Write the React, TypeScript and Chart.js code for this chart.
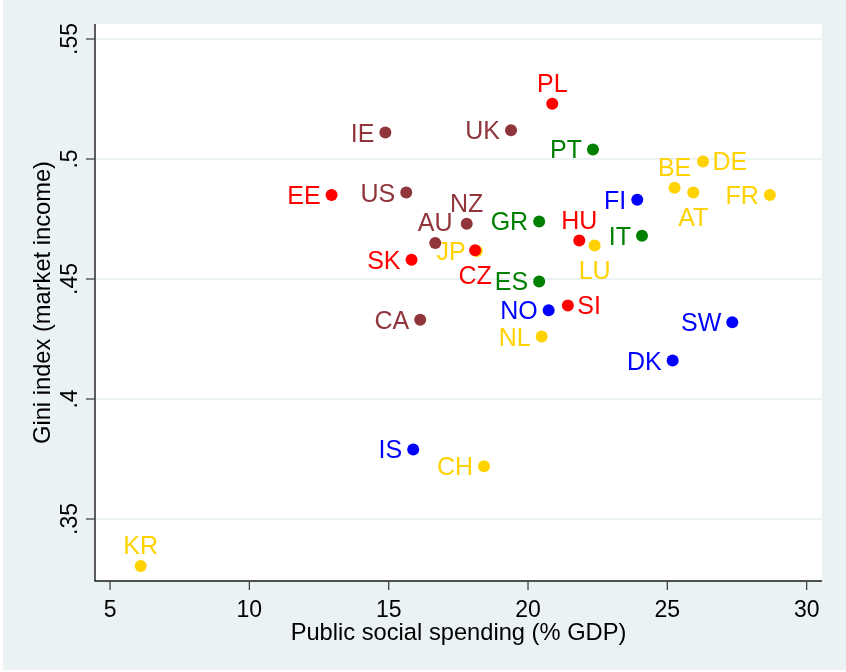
import React, { useEffect, useRef } from "react";
import { Chart, registerables } from "chart.js";

Chart.register(...registerables);

// ---- Data ----
const angloCodes = ["IE", "UK", "US", "NZ", "AU", "CA"];
const angloSpending = [14.88, 19.39, 15.63, 17.8, 16.67, 16.13];
const angloGini = [0.511, 0.512, 0.486, 0.473, 0.465, 0.433];

const easternCodes = ["PL", "EE", "HU", "SK", "CZ", "SI"];
const easternSpending = [20.87, 12.95, 21.84, 15.82, 18.1, 21.43];
const easternGini = [0.523, 0.485, 0.466, 0.458, 0.462, 0.439];

const southernCodes = ["PT", "GR", "IT", "ES"];
const southernSpending = [22.33, 20.4, 24.09, 20.4];
const southernGini = [0.504, 0.474, 0.468, 0.449];

const nordicCodes = ["FI", "NO", "SW", "DK", "IS"];
const nordicSpending = [23.92, 20.74, 27.33, 25.19, 15.88];
const nordicGini = [0.483, 0.437, 0.432, 0.416, 0.379];

const continentalCodes = ["BE", "DE", "AT", "FR", "LU", "JP", "NL", "CH", "KR"];
const continentalSpending = [25.26, 26.28, 25.93, 28.68, 22.39, 18.16, 20.49, 18.42, 6.1];
const continentalGini = [0.488, 0.499, 0.486, 0.485, 0.464, 0.4617, 0.426, 0.372, 0.3304];

const xTickValues = [5, 10, 15, 20, 25, 30];
const xTickLabels = ["5", "10", "15", "20", "25", "30"];
const yTickValues = [0.35, 0.4, 0.45, 0.5, 0.55];
const yTickLabels = [".35", ".4", ".45", ".5", ".55"];

const xTitle = "Public social spending (% GDP)";
const yTitle = "Gini index (market income)";

// ---- Styles ----
const groupColors = ["rgb(144,53,59)", "rgb(255,0,0)", "rgb(0,128,0)", "rgb(0,0,255)", "rgb(255,210,0)"];

// marker label clock positions: L = left (9), R = right (3), T = above (12), B = below (6)
const labelPos: Record<string, string> = {
  PL: "T", NZ: "T", AU: "T", HU: "T", BE: "T", KR: "T",
  DE: "R", SI: "R",
  AT: "B", LU: "B", CZ: "B",
};

const FONT = '"Liberation Sans", Arial, Helvetica, sans-serif';
const LABEL_FS = 25;
const TICK_FS = 23;
const TITLE_FS = 23.7;
const BG = "rgb(234,242,243)";

const stataPlugin = {
  id: "stataFrame",
  beforeDraw(chart: any) {
    const { ctx, chartArea: a, width, height } = chart;
    const ys = chart.scales.y;
    ctx.save();
    ctx.fillStyle = "#ffffff";
    ctx.fillRect(0, 0, width, height);
    ctx.fillStyle = BG;
    ctx.fillRect(3, 0, width - 3, height - 2);
    ctx.fillStyle = "#ffffff";
    ctx.fillRect(a.left, a.top, a.right - a.left, a.bottom - a.top);
    // horizontal grid lines
    ctx.strokeStyle = BG;
    ctx.lineWidth = 2;
    yTickValues.forEach((v) => {
      const y = ys.getPixelForValue(v);
      ctx.beginPath();
      ctx.moveTo(a.left, y);
      ctx.lineTo(a.right, y);
      ctx.stroke();
    });
    ctx.restore();
  },
  beforeDatasetsDraw(chart: any) {
    const { ctx, chartArea: a } = chart;
    const xs = chart.scales.x;
    const ys = chart.scales.y;
    ctx.save();
    // axis lines
    ctx.strokeStyle = "#1a1a1a";
    ctx.lineWidth = 1.4;
    ctx.beginPath();
    ctx.moveTo(a.left, a.top);
    ctx.lineTo(a.left, a.bottom);
    ctx.lineTo(a.right, a.bottom);
    ctx.stroke();
    // tick marks
    ctx.strokeStyle = "#444";
    ctx.lineWidth = 1.3;
    yTickValues.forEach((v) => {
      const y = ys.getPixelForValue(v);
      ctx.beginPath();
      ctx.moveTo(a.left - 9, y);
      ctx.lineTo(a.left, y);
      ctx.stroke();
    });
    xTickValues.forEach((v) => {
      const x = xs.getPixelForValue(v);
      ctx.beginPath();
      ctx.moveTo(x, a.bottom);
      ctx.lineTo(x, a.bottom + 9);
      ctx.stroke();
    });
    // tick labels
    ctx.fillStyle = "#000";
    ctx.font = `${TICK_FS}px ${FONT}`;
    ctx.textAlign = "center";
    ctx.textBaseline = "alphabetic";
    xTickValues.forEach((v, i) => {
      ctx.fillText(xTickLabels[i], xs.getPixelForValue(v), a.bottom + 35.7);
    });
    yTickValues.forEach((v, i) => {
      const y = ys.getPixelForValue(v);
      ctx.save();
      ctx.translate(a.left - 18.3, y);
      ctx.rotate(-Math.PI / 2);
      ctx.fillText(yTickLabels[i], 0, 0);
      ctx.restore();
    });
    // axis titles
    ctx.font = `${TITLE_FS}px ${FONT}`;
    ctx.fillText(xTitle, (a.left + a.right) / 2, a.bottom + 58.5);
    ctx.save();
    ctx.translate(a.left - 45, (a.top + a.bottom) / 2);
    ctx.rotate(-Math.PI / 2);
    ctx.fillText(yTitle, 0, 0);
    ctx.restore();
    ctx.restore();
  },
  afterDatasetsDraw(chart: any) {
    const { ctx } = chart;
    ctx.save();
    ctx.font = `${LABEL_FS}px ${FONT}`;
    ctx.textBaseline = "alphabetic";
    const capH = 0.716 * LABEL_FS;
    chart.data.datasets.forEach((ds: any, di: number) => {
      const meta = chart.getDatasetMeta(di);
      ctx.fillStyle = ds.backgroundColor;
      meta.data.forEach((pt: any, i: number) => {
        const code = ds.codes[i];
        const pos = labelPos[code] || "L";
        const { x, y } = pt;
        if (pos === "L") {
          ctx.textAlign = "right";
          ctx.fillText(code, x - 11, y + capH / 2);
        } else if (pos === "R") {
          ctx.textAlign = "left";
          ctx.fillText(code, x + 9.5, y + capH / 2);
        } else if (pos === "T") {
          ctx.textAlign = "center";
          ctx.fillText(code, x, y - 11.7);
        } else {
          ctx.textAlign = "center";
          ctx.fillText(code, x, y + 15.7 + capH);
        }
      });
    });
    ctx.restore();
  },
};

function makeDataset(codes: string[], xs: number[], ys: number[], color: string) {
  return {
    codes,
    data: codes.map((_, i) => ({ x: xs[i], y: ys[i] })),
    backgroundColor: color,
    borderWidth: 0,
    pointRadius: 6,
    pointHoverRadius: 6,
  };
}

export default function App() {
  const ref = useRef<HTMLCanvasElement | null>(null);
  useEffect(() => {
    document.body.style.margin = "0";
    const canvas = ref.current;
    if (!canvas) return;
    const chart = new Chart(canvas, {
      type: "scatter",
      data: {
        datasets: [
          makeDataset(angloCodes, angloSpending, angloGini, groupColors[0]),
          makeDataset(easternCodes, easternSpending, easternGini, groupColors[1]),
          makeDataset(southernCodes, southernSpending, southernGini, groupColors[2]),
          makeDataset(nordicCodes, nordicSpending, nordicGini, groupColors[3]),
          makeDataset(continentalCodes, continentalSpending, continentalGini, groupColors[4]),
        ] as any,
      },
      options: {
        responsive: false,
        animation: false,
        events: [],
        layout: { padding: { left: 95, right: 24, top: 24, bottom: 91 } },
        scales: {
          x: { type: "linear", min: 4.46, max: 30.55, display: false },
          y: { type: "linear", min: 0.32417, max: 0.55625, display: false },
        },
        plugins: { legend: { display: false }, tooltip: { enabled: false } },
      },
      plugins: [stataPlugin],
    });
    return () => chart.destroy();
  }, []);
  return (
    <div style={{ width: 846, height: 672 }}>
      <canvas ref={ref} width={846} height={672} style={{ display: "block" }} />
    </div>
  );
}
